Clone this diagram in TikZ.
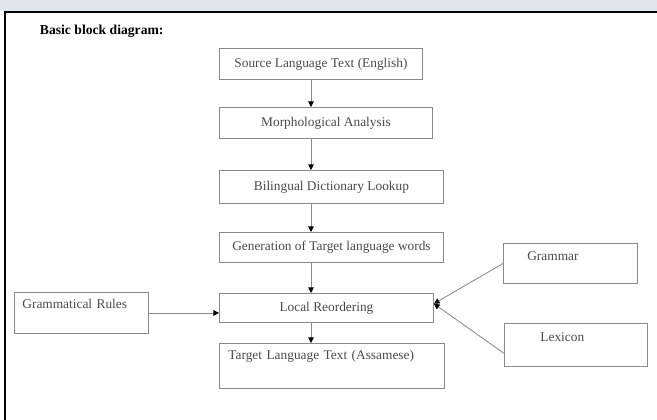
\documentclass[tikz,border=0pt]{standalone}
\usepackage{fontspec}
\setmainfont{Liberation Serif}
\usetikzlibrary{arrows.meta}
\definecolor{Band}{HTML}{E4E6EE}
\definecolor{Edge}{HTML}{8A8A8A}
\definecolor{Ink}{HTML}{4A4A4A}

\begin{document}
\begin{tikzpicture}[
    x=0.025cm, y=-0.025cm,
    block/.style={draw=Edge, line width=0.6pt, anchor=north west, inner sep=0pt, align=center, text=Ink, font=\fontsize{9.5}{11}\selectfont},
    sidebox/.style={block, align=left, inner ysep=4pt},
    arr/.style={-{Triangle[length=4pt, width=4pt, color=black]}, draw=Edge, line width=0.6pt}
]
\useasboundingbox (0,0) rectangle (657,420);

% page frame
\fill[Band] (0,0) rectangle (657,11.5);
\draw[line width=1.2pt] (5,420) -- (5,12) -- (657,12);

\node[anchor=base west, font=\fontsize{9.7}{11}\selectfont\bfseries] (title) at (35,35) {Basic block diagram:};

% main chain
\node[block, minimum width=5.075cm, minimum height=0.775cm] (source) at (219,48) {Source Language Text (English)};
\node[block, minimum width=5.325cm, minimum height=0.775cm] (morph) at (219,107) {Morphological Analysis};
\node[block, minimum width=5.6cm, minimum height=0.825cm] (lookup) at (219,170) {Bilingual Dictionary Lookup};
\node[block, minimum width=5.6cm, minimum height=0.75cm] (generate) at (219,232) {Generation of Target language words};
\node[block, minimum width=5.35cm, minimum height=0.725cm] (reorder) at (219,293) {Local Reordering};
\node[sidebox, inner xsep=6.4pt, text width=5.175cm, text height=7.7pt, text depth=16.3pt] (target) at (219,343) {Target Language Text (Assamese)};

% side inputs
\node[sidebox, inner xsep=5.7pt, text width=2.95cm, text height=7.4pt, text depth=13.8pt] (rules) at (14,292) {Grammatical Rules};
\node[sidebox, inner xsep=17pt, text width=2.15cm, text height=8.1pt, text depth=12.4pt] (grammar) at (503,243) {Grammar};
\node[sidebox, inner xsep=25.6pt, text width=1.775cm, text height=8.8pt, text depth=13.8pt] (lexicon) at (504,323) {Lexicon};

\coordinate (spine) at (311,0);

\draw[arr] (source.south -| spine) -- (morph.north -| spine);
\draw[arr] (morph.south -| spine) -- (lookup.north -| spine);
\draw[arr] (lookup.south -| spine) -- (generate.north -| spine);
\draw[arr] (generate.south -| spine) -- (reorder.north -| spine);
\draw[arr] (reorder.south -| spine) -- (target.north -| spine);

\draw[arr] (rules.east) -- (reorder.west |- rules.east);
\draw[arr] (grammar.west) -- ([yshift=3pt]reorder.east);
\draw[arr] ([yshift=-6pt]lexicon.west) -- ([yshift=3pt]reorder.east);

\end{tikzpicture}
\end{document}
